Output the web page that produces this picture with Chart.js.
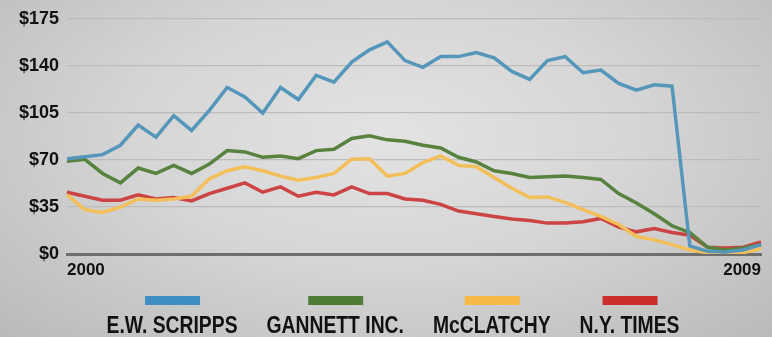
<!DOCTYPE html>
<html>
<head>
<meta charset="utf-8">
<script src="https://cdn.jsdelivr.net/npm/chart.js@4.4.1/dist/chart.umd.min.js"></script>
<style>
  html, body { margin: 0; padding: 0; }
  body {
    width: 772px; height: 337px; overflow: hidden;
    background: radial-gradient(ellipse at 50% 40%, #e3e3e3 0%, #d6d6d6 45%, #bababa 100%);
  }
  #wrap { position: relative; width: 772px; height: 337px; }
</style>
</head>
<body>
<div id="wrap"><canvas id="chart" width="772" height="337"></canvas></div>
<script>
// quarterly share prices, 2000 Q1 .. 2009 Q4
const years = [2000, 2001, 2002, 2003, 2004, 2005, 2006, 2007, 2008, 2009]
const tickLabels = ['2000', '2009']
const seriesNames = ['E.W. SCRIPPS', 'GANNETT INC.', 'McCLATCHY', 'N.Y. TIMES']

const scripps = [71, 72.5, 74, 81, 96, 87, 103, 92, 107, 124,
                 117, 105, 124, 115, 133, 128, 143, 152, 158, 144,
                 139, 147, 147, 150, 146, 136, 130, 144, 147, 135,
                 137, 127, 122, 126, 125, 6, 2, 1.5, 3, 7]
const gannett = [69, 70.5, 60, 53, 64, 60, 66, 60, 67, 77,
                 76, 72, 73, 71, 77, 78, 86, 88, 85, 84,
                 81, 79, 72, 68.5, 62, 60, 57, 57.5, 58, 57,
                 55.5, 45, 38, 30, 21, 16, 5, 3, 4.5, 7]
const mcclatchy = [44, 33, 31, 35, 41, 40, 41, 43, 56, 62,
                   65, 62, 58, 55, 57, 60, 70.5, 71, 58, 60,
                   68, 73, 66, 65, 57, 49, 42, 42.5, 38.5, 33,
                   28, 22, 13, 10.5, 7, 3, 1, 0.5, 1, 4]
const nytimes = [46, 43, 40, 40, 44, 41, 42, 39.5, 45, 49,
                 53, 46, 50, 43, 46, 44, 50, 45, 45, 41,
                 40, 37, 32, 30, 28, 26, 25, 23, 23, 24,
                 26.5, 20, 16.5, 19, 16, 14, 5, 4.5, 5, 9]

const lineColors = ['#5597bb', '#58833f', '#f4be58', '#cc4444']
const swatchColors = ['#3f8fc4', '#4f7d36', '#f7b845', '#cc2d2d']

let quarters = []
years.forEach(y => { for (let q = 1; q <= 4; q++) quarters.push(y + ' Q' + q) })

const allSeries = [scripps, gannett, mcclatchy, nytimes]

const datasets = allSeries.map((s, i) => ({
    label: seriesNames[i],
    data: s,
    borderColor: lineColors[i],
    backgroundColor: lineColors[i],
    borderWidth: 3.5,
    pointRadius: 0,
    tension: 0,
    borderJoinStyle: 'miter'
}))

// legend: swatch bar above each name, row centred under the plot
const barLegend = {
    id: 'barLegend',
    afterDraw(chart) {
        const ctx = chart.ctx
        const squeeze = 0.84
        ctx.save()
        ctx.font = 'bold 23px "Liberation Sans", sans-serif'
        const gap = 29
        const widths = chart.data.datasets.map(d => ctx.measureText(d.label).width * squeeze)
        const total = widths.reduce((a, b) => a + b, 0) + gap * (widths.length - 1)
        let x = chart.width / 2 + 7 - total / 2
        chart.data.datasets.forEach((d, i) => {
            const cx = x + widths[i] / 2
            ctx.fillStyle = swatchColors[i]
            ctx.fillRect(cx - 27, 296, 55, 9)
            ctx.save()
            ctx.translate(x, 333)
            ctx.scale(squeeze, 1)
            ctx.fillStyle = '#111'
            ctx.textBaseline = 'alphabetic'
            ctx.fillText(d.label, 0, 0)
            ctx.restore()
            x += widths[i] + gap
        })
        ctx.restore()
    }
}

new Chart(document.getElementById('chart'), {
    type: 'line',
    data: { labels: quarters, datasets: datasets },
    options: {
        responsive: false,
        animation: false,
        events: [],
        layout: { padding: { top: 19, right: 11, bottom: 58, left: 0 } },
        plugins: { legend: { display: false }, tooltip: { enabled: false } },
        scales: {
            x: {
                afterFit: (scale) => { scale.height = 25 },
                grid: { display: false, drawTicks: false },
                border: { display: true, color: '#6e6e6e', width: 3 },
                ticks: {
                    autoSkip: false,
                    maxRotation: 0,
                    align: 'inner',
                    padding: 6,
                    color: '#111',
                    font: { family: '"Liberation Sans", sans-serif', size: 17, weight: 'bold' },
                    callback: (v, i) => i === 0 ? tickLabels[0] : (i === quarters.length - 1 ? tickLabels[1] : '')
                }
            },
            y: {
                min: 0,
                max: 175,
                afterFit: (scale) => { scale.width = 67 },
                grid: { color: '#bcbcbc', lineWidth: 1.2, drawTicks: false },
                border: { display: false },
                ticks: {
                    stepSize: 35,
                    padding: 8,
                    color: '#111',
                    font: { family: '"Liberation Sans", sans-serif', size: 18, weight: 'bold' },
                    callback: (v) => '$' + v
                }
            }
        }
    },
    plugins: [barLegend]
})
</script>
</body>
</html>
